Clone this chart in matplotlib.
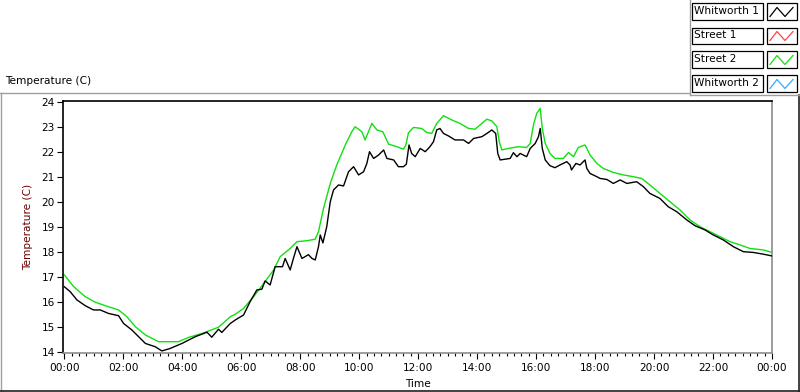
import matplotlib
matplotlib.use("Agg")
import matplotlib.pyplot as plt
from matplotlib.lines import Line2D
from matplotlib.patches import Rectangle
from matplotlib.ticker import MultipleLocator, FixedLocator

# ---- data (hours since midnight, temperature in C) ----
street2_h = [0, 0.32, 0.71, 1.05, 1.39, 1.84, 2.12, 2.41, 2.75, 3.2, 3.87, 4.21, 4.67,
             5.23, 5.51, 5.63, 5.8, 6.08, 6.42, 6.76, 7.1, 7.32, 7.66, 7.89, 8.23, 8.51,
             8.62, 8.79, 9.02, 9.24, 9.53, 9.75, 9.86, 10.09, 10.2, 10.43, 10.6, 10.8,
             11.0, 11.28, 11.5, 11.58, 11.67, 11.84, 12.12, 12.29, 12.46, 12.63, 12.86,
             13.14, 13.42, 13.71, 13.93, 14.16, 14.33, 14.5, 14.67, 14.75, 14.84, 15.06,
             15.4, 15.68, 15.8, 15.91, 16.02, 16.14, 16.21, 16.31, 16.47, 16.64, 16.92,
             17.1, 17.27, 17.43, 17.66, 17.83, 18.06, 18.28, 18.62, 18.96, 19.3, 19.58,
             19.86, 20.2, 20.54, 20.88, 21.22, 21.56, 21.9, 22.24, 22.58, 22.92, 23.25,
             23.71, 24.0]
street2_t = [17.07, 16.6, 16.2, 15.98, 15.84, 15.67, 15.4, 15.0, 14.67, 14.4, 14.4, 14.57,
             14.73, 14.98, 15.27, 15.4, 15.5, 15.73, 16.2, 16.73, 17.27, 17.8, 18.13, 18.4,
             18.44, 18.5, 18.8, 19.73, 20.73, 21.47, 22.27, 22.8, 23.0, 22.8, 22.47, 23.13,
             22.87, 22.8, 22.3, 22.2, 22.1, 22.25, 22.75, 22.97, 22.93, 22.77, 22.73, 23.13,
             23.44, 23.27, 23.13, 22.93, 22.9, 23.13, 23.3, 23.23, 23.0, 22.4, 22.07, 22.13,
             22.2, 22.17, 22.33, 23.07, 23.53, 23.73, 22.93, 22.33, 21.93, 21.73, 21.73,
             21.97, 21.8, 22.17, 22.27, 21.87, 21.53, 21.33, 21.17, 21.07, 21.0, 20.93,
             20.67, 20.33, 20.0, 19.67, 19.27, 19.0, 18.8, 18.6, 18.4, 18.27, 18.13,
             18.07, 17.97]

whit1_h = [0, 0.2, 0.43, 0.71, 0.99, 1.22, 1.5, 1.84, 2.01, 2.29, 2.75, 3.08, 3.31, 3.59,
           3.99, 4.44, 4.84, 5.0, 5.23, 5.34, 5.63, 5.8, 6.08, 6.3, 6.53, 6.7, 6.81, 6.98,
           7.15, 7.4, 7.49, 7.66, 7.77, 7.89, 8.06, 8.28, 8.4, 8.51, 8.62, 8.68, 8.77, 8.9,
           9.02, 9.13, 9.3, 9.47, 9.64, 9.81, 9.98, 10.15, 10.26, 10.35, 10.49, 10.66,
           10.83, 10.94, 11.17, 11.33, 11.5, 11.6, 11.69, 11.78, 11.9, 12.07, 12.24, 12.4,
           12.52, 12.63, 12.74, 12.86, 13.03, 13.25, 13.54, 13.71, 13.88, 14.16, 14.33,
           14.5, 14.63, 14.7, 14.78, 14.95, 15.12, 15.23, 15.35, 15.46, 15.68, 15.8, 15.97,
           16.08, 16.14, 16.21, 16.31, 16.47, 16.64, 16.81, 17.04, 17.15, 17.2, 17.35,
           17.49, 17.6, 17.66, 17.72, 17.83, 18.06, 18.17, 18.4, 18.62, 18.85, 19.08,
           19.41, 19.64, 19.86, 20.2, 20.48, 20.77, 21.11, 21.39, 21.73, 22.01, 22.35,
           22.69, 23.03, 23.37, 23.71, 24.0]
whit1_t = [16.6, 16.4, 16.07, 15.84, 15.67, 15.67, 15.53, 15.44, 15.13, 14.87, 14.33, 14.2,
           14.03, 14.13, 14.33, 14.6, 14.78, 14.58, 14.9, 14.77, 15.13, 15.27, 15.47, 16.0,
           16.47, 16.5, 16.83, 16.67, 17.4, 17.4, 17.73, 17.27, 17.73, 18.2, 17.73, 17.88,
           17.73, 17.67, 18.2, 18.67, 18.35, 19.0, 20.0, 20.47, 20.67, 20.63, 21.2, 21.4,
           21.07, 21.2, 21.53, 22.0, 21.73, 21.87, 22.07, 21.73, 21.67, 21.4, 21.4, 21.5,
           22.27, 21.93, 21.8, 22.13, 22.0, 22.2, 22.4, 22.87, 22.93, 22.73, 22.63, 22.47,
           22.47, 22.33, 22.53, 22.6, 22.73, 22.87, 22.73, 21.93, 21.67, 21.7, 21.73, 21.96,
           21.8, 21.93, 21.8, 22.13, 22.33, 22.6, 22.93, 22.13, 21.67, 21.44, 21.36, 21.47,
           21.6, 21.47, 21.27, 21.53, 21.47, 21.6, 21.67, 21.33, 21.13, 21.0, 20.93, 20.89,
           20.73, 20.87, 20.73, 20.8, 20.6, 20.33, 20.13, 19.8, 19.6, 19.27, 19.04, 18.87,
           18.67, 18.47, 18.2, 18.0, 17.97, 17.9, 17.83]

legend_labels = ["Whitworth 1", "Street 1", "Street 2", "Whitworth 2"]
legend_colors = ["#000000", "#ff4444", "#10e010", "#33aaff"]

x_tick_hours = [0, 2, 4, 6, 8, 10, 12, 14, 16, 18, 20, 22, 24]
x_tick_labels = ["00:00", "02:00", "04:00", "06:00", "08:00", "10:00", "12:00",
                 "14:00", "16:00", "18:00", "20:00", "22:00", "00:00"]
y_ticks = [14, 15, 16, 17, 18, 19, 20, 21, 22, 23, 24]

# ---- figure ----
W, H = 800, 392
fig = plt.figure(figsize=(W / 100, H / 100), dpi=100)
fig.patch.set_facecolor("white")
plt.rcParams["font.family"] = ["DejaVu Sans"]
FS = 7.6


def fx(px):
    return px / W


def fy(py):
    return 1 - py / H


ax = fig.add_axes([fx(63.3), fy(353.3), fx(772) - fx(63.3), fy(100.7) - fy(353.3)])
ax.plot(whit1_h, whit1_t, color=legend_colors[0], lw=1.0, zorder=3)
ax.plot(street2_h, street2_t, color=legend_colors[2], lw=1.0, zorder=2)

ax.set_xlim(-0.034, 24)
ax.set_ylim(13.936, 24.04)
ax.xaxis.set_major_locator(FixedLocator(x_tick_hours))
ax.set_xticklabels(x_tick_labels)
ax.xaxis.set_minor_locator(MultipleLocator(0.25))
ax.set_yticks(y_ticks)
ax.set_yticklabels([str(v) for v in y_ticks])

ax.tick_params(axis="both", which="major", direction="out", length=4.0, width=0.8,
               color="black", labelsize=FS, pad=2)
ax.tick_params(axis="x", which="minor", direction="out", length=2.2, width=0.8, color="black")
ax.tick_params(axis="x", which="major", pad=3)

for side, col in [("top", "black"), ("left", "black"), ("right", "#8c8c8c"), ("bottom", "#8c8c8c")]:
    ax.spines[side].set_color(col)
    ax.spines[side].set_linewidth(1.2)

ax.set_ylabel("Temperature (C)", fontsize=FS, color="#6b0000")
ax.yaxis.set_label_coords(-0.05, 0.5)
ax.set_xlabel("Time", fontsize=FS)
ax.xaxis.set_label_coords(0.5, -0.122)
ax.xaxis.label.set_va("center")
ax.yaxis.label.set_va("center")

# chart title at top-left
fig.text(fx(5), fy(81), "Temperature (C)", fontsize=FS, ha="left", va="center")


def fline(x0, y0, x1, y1, color, lw=1.0):
    fig.add_artist(Line2D([fx(x0), fx(x1)], [fy(y0), fy(y1)], color=color, lw=lw,
                          transform=fig.transFigure))


# panel frames
fline(0, 92.5, 690, 92.5, "#a0a0a0")
fline(0.7, 92.5, 0.7, 391, "#a0a0a0")
fline(0, 391, 800, 391, "#202020", 1.2)
fline(799.3, 95, 799.3, 391, "#202020", 1.2)
fline(690, 0, 690, 95, "#a0a0a0")
fline(690, 95, 799, 95, "#a0a0a0")

# legend
for i, (lab, col) in enumerate(zip(legend_labels, legend_colors)):
    top = 3.5 + 24 * i
    h = 16
    fig.add_artist(Rectangle((fx(692), fy(top + h)), fx(763) - fx(692), fy(top) - fy(top + h),
                             transform=fig.transFigure, fill=True, facecolor="white",
                             edgecolor="black", lw=0.9))
    fig.text(fx(694), fy(top + h / 2), lab, fontsize=FS, ha="left", va="center")
    fig.add_artist(Rectangle((fx(767), fy(top + h)), fx(797) - fx(767), fy(top) - fy(top + h),
                             transform=fig.transFigure, fill=True, facecolor="white",
                             edgecolor="black", lw=0.9))
    xs = [770, 777, 785, 793]
    ys = [top + 13, top + 4, top + 13, top + 4]
    fig.add_artist(Line2D([fx(v) for v in xs], [fy(v) for v in ys], color=col, lw=0.9,
                          transform=fig.transFigure))

fig.savefig("out.png", dpi=100, facecolor="white")
